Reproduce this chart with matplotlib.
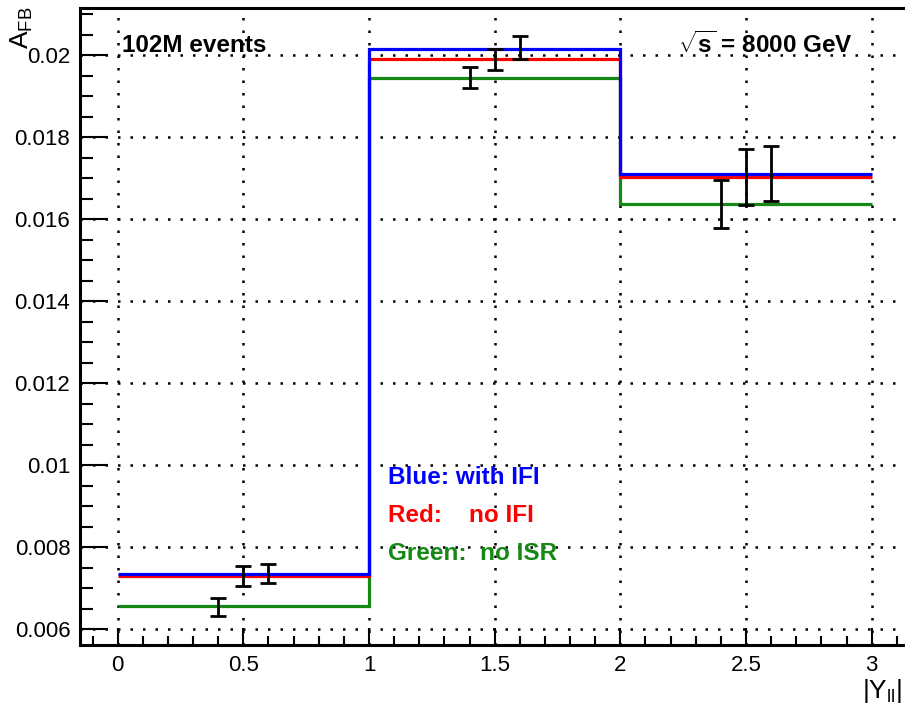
import numpy as np
import matplotlib
matplotlib.use("Agg")
import matplotlib.pyplot as plt
from matplotlib.ticker import MultipleLocator

plt.rcParams['font.family'] = ['Liberation Sans', 'DejaVu Sans']
plt.rcParams['mathtext.fontset'] = 'custom'
plt.rcParams['mathtext.rm'] = 'Liberation Sans'
plt.rcParams['mathtext.bf'] = 'Liberation Sans:bold'
plt.rcParams['mathtext.it'] = 'Liberation Sans:italic'

# histogram bins in |Y_ll|
bin_edges = [0, 1, 2, 3]
afb_with_ifi = [0.00734, 0.02016, 0.01711]
afb_no_ifi = [0.00730, 0.01990, 0.01703]
afb_no_isr = [0.00656, 0.01945, 0.01638]

# points with errors
pts_x = [0.4, 0.5, 0.6, 1.4, 1.5, 1.6, 2.4, 2.5, 2.6]
pts_y = [0.00654, 0.00730, 0.00735, 0.01946, 0.01990, 0.02018, 0.01637, 0.01703, 0.01711]
pts_err = [0.00022, 0.00024, 0.00023, 0.00025, 0.00026, 0.00028, 0.00059, 0.00068, 0.00068]

green = '#168816'

W, H = 905, 710
fig = plt.figure(figsize=(W / 100, H / 100), dpi=100)

# frame in pixels (right side runs past the canvas edge)
x0_px, x_unit = 117.7, 251.33
xlo, xhi = -0.15, 3.3
left_px = x0_px + xlo * x_unit
right_px = x0_px + xhi * x_unit
top_px, bot_px = 8, 645
ax = fig.add_axes([left_px / W, 1 - bot_px / H, (right_px - left_px) / W, (bot_px - top_px) / H])

ax.set_xlim(xlo, xhi)
ax.set_ylim(0.00561, 0.02115)

ax.stairs(afb_no_isr, bin_edges, baseline=None, color=green, lw=2.3, zorder=3)
ax.stairs(afb_no_ifi, bin_edges, baseline=None, color='#ff0000', lw=2.3, zorder=4)
ax.stairs(afb_with_ifi, bin_edges, baseline=None, color='#0000ff', lw=2.3, zorder=5)

ax.errorbar(pts_x, pts_y, yerr=pts_err, fmt='none', ecolor='black',
            elinewidth=2, capsize=5.5, capthick=2, zorder=6)

ax.xaxis.set_major_locator(MultipleLocator(0.5))
ax.xaxis.set_minor_locator(MultipleLocator(0.1))
ax.yaxis.set_major_locator(MultipleLocator(0.002))
ax.yaxis.set_minor_locator(MultipleLocator(0.0005))
ax.xaxis.set_major_formatter(matplotlib.ticker.FuncFormatter(lambda v, p: f'{v:g}'))
ax.yaxis.set_major_formatter(matplotlib.ticker.FuncFormatter(lambda v, p: f'{v:g}'))

ax.tick_params(axis='x', which='major', direction='in', length=12, width=1.5, labelsize=16, pad=7)
ax.tick_params(axis='x', which='minor', direction='in', length=6.5, width=1.5)
ax.tick_params(axis='y', which='major', direction='in', length=20, width=1.5, labelsize=16, pad=7)
ax.tick_params(axis='y', which='minor', direction='in', length=9.5, width=1.5)

for s in ['left', 'bottom', 'top']:
    ax.spines[s].set_linewidth(2.2)
ax.spines['right'].set_visible(False)

ax.grid(True, which='major', color='black', linestyle=(0, (1, 4)), linewidth=1.8, zorder=1)
ax.set_axisbelow(True)

ax.text(122 / W, 1 - 45 / H, '102M events', transform=fig.transFigure,
        fontsize=17.5, fontweight='bold', ha='left', va='center', zorder=7)
ax.text(678 / W, 1 - 45 / H, r'$\sqrt{\mathbf{s}}$ = 8000 GeV', transform=fig.transFigure,
        fontsize=17.5, fontweight='bold', ha='left', va='center', zorder=7)

ax.text(388 / W, 1 - 477 / H, 'Blue: with IFI', transform=fig.transFigure, color='#0000ff',
        fontsize=17.5, fontweight='bold', ha='left', va='center', zorder=7)
ax.text(388 / W, 1 - 515 / H, 'Red:    no IFI', transform=fig.transFigure, color='#ff0000',
        fontsize=17.5, fontweight='bold', ha='left', va='center', zorder=7)
ax.text(388 / W, 1 - 553 / H, 'Green:  no ISR', transform=fig.transFigure, color=green,
        fontsize=17.5, fontweight='bold', ha='left', va='center', zorder=7)

fig.text(9 / W, 1 - 7 / H, r'$\mathregular{A_{FB}}$', rotation=90, fontsize=19,
         ha='left', va='top')
fig.text(902 / W, 1 - 698 / H, r'$\mathregular{|Y_{ll}|}$', fontsize=19,
         ha='right', va='baseline')

fig.savefig('out.png', dpi=100)
